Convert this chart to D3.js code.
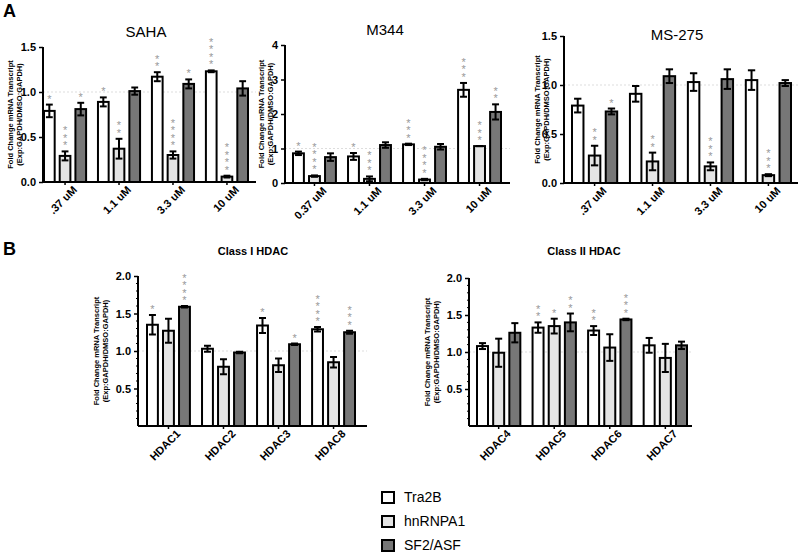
<!DOCTYPE html>
<html>
<head>
<meta charset="utf-8">
<script src="https://cdn.jsdelivr.net/npm/d3@7"></script>
<style>
  body { margin: 0; background: #fff; }
  svg { font-family: "Liberation Sans", Arial, sans-serif; }
</style>
</head>
<body>
<div id="chart"></div>
<script>
// series (same for every panel)
var series = ['Tra2B', 'hnRNPA1', 'SF2/ASF'];
var fills = ['#ffffff', '#e4e4e4', '#777777'];

// panel A - SAHA
var sahaGroups = ['.37 uM', '1.1 uM', '3.3 uM', '10 uM'];
var sahaMean = [[0.79, 0.89, 1.17, 1.23], [0.29, 0.37, 0.30, 0.06], [0.81, 1.01, 1.09, 1.04]];
var sahaErr  = [[0.07, 0.05, 0.05, 0.01], [0.05, 0.11, 0.04, 0.01], [0.07, 0.04, 0.05, 0.08]];
var sahaStars = [[1, 1, 2, 4], [3, 2, 4, 4], [1, 0, 1, 0]];
var sahaTicks = [0, 0.5, 1.0, 1.5];

// panel A - M344
var m344Groups = ['0.37 uM', '1.1 uM', '3.3 uM', '10 uM'];
var m344Mean = [[0.86, 0.77, 1.12, 2.70], [0.20, 0.12, 0.10, 1.07], [0.75, 1.10, 1.05, 2.06]];
var m344Err  = [[0.05, 0.10, 0.02, 0.20], [0.02, 0.07, 0.02, 0.00], [0.11, 0.08, 0.08, 0.22]];
var m344Stars = [[1, 1, 3, 3], [4, 3, 4, 3], [0, 0, 0, 2]];
var m344Ticks = [0, 1, 2, 3, 4];

// panel A - MS-275
var ms275Groups = ['.37 uM', '1.1 uM', '3.3 uM', '10 uM'];
var ms275Mean = [[0.79, 0.91, 1.03, 1.05], [0.28, 0.22, 0.17, 0.08], [0.73, 1.09, 1.06, 1.02]];
var ms275Err  = [[0.07, 0.08, 0.09, 0.10], [0.10, 0.09, 0.04, 0.01], [0.03, 0.07, 0.10, 0.03]];
var ms275Stars = [[0, 0, 0, 0], [2, 2, 3, 3], [1, 0, 0, 0]];
var ms275Ticks = [0, 0.5, 1.0, 1.5];

// panel B - Class I HDAC
var class1Groups = ['HDAC1', 'HDAC2', 'HDAC3', 'HDAC8'];
var class1Mean = [[1.35, 1.03, 1.34, 1.29], [1.27, 0.79, 0.81, 0.85], [1.59, 0.98, 1.09, 1.25]];
var class1Err  = [[0.13, 0.04, 0.10, 0.03], [0.16, 0.10, 0.09, 0.07], [0.01, 0.01, 0.01, 0.02]];
var class1Stars = [[1, 0, 1, 4], [0, 0, 0, 0], [4, 0, 1, 3]];

// panel B - Class II HDAC
var class2Groups = ['HDAC4', 'HDAC5', 'HDAC6', 'HDAC7'];
var class2Mean = [[1.08, 1.33, 1.29, 1.09], [0.99, 1.35, 1.06, 0.92], [1.26, 1.40, 1.44, 1.09]];
var class2Err  = [[0.04, 0.07, 0.06, 0.10], [0.19, 0.10, 0.18, 0.19], [0.13, 0.12, 0.01, 0.05]];
var class2Stars = [[0, 2, 2, 0], [0, 1, 0, 0], [0, 2, 3, 0]];
var classTicks = [0.5, 1.0, 1.5, 2.0];

var svg = d3.select('#chart').append('svg')
  .attr('width', 800)
  .attr('height', 553);

function drawPanel(p) {
  var g = svg.append('g');
  var y = d3.scaleLinear().domain(p.domain).range([p.y0, p.y1]);
  var x0 = d3.scaleBand().domain(p.groups).range([p.b0, p.b1])
    .paddingInner(0.22).paddingOuter(0);
  var x1 = d3.scaleBand().domain(d3.range(series.length))
    .range([0, x0.bandwidth()]).paddingInner(0.32).paddingOuter(0);

  // dotted reference line at 1
  g.append('line')
    .attr('x1', p.ax0).attr('x2', p.ax1)
    .attr('y1', y(1)).attr('y2', y(1))
    .style('stroke', '#dddddd').style('stroke-width', 1)
    .style('stroke-dasharray', '2,2');

  var rows = [];
  for (var s = 0; s < series.length; s++) {
    for (var i = 0; i < p.groups.length; i++) {
      rows.push({ s: s, grp: p.groups[i], m: p.mean[s][i], e: p.err[s][i], n: p.stars[s][i] });
    }
  }

  var bars = g.selectAll('g.bar').data(rows).enter().append('g')
    .attr('transform', function(d) { return 'translate(' + (x0(d.grp) + x1(d.s)) + ',0)'; });
  var bw = x1.bandwidth();

  bars.append('rect')
    .attr('x', 0)
    .attr('y', function(d) { return y(d.m); })
    .attr('width', bw)
    .attr('height', function(d) { return y(p.domain[0]) - y(d.m); })
    .style('fill', function(d) { return fills[d.s]; })
    .style('stroke', '#000')
    .style('stroke-width', 2);

  // error bars
  var cap = bw * 0.32;
  bars.append('line')
    .attr('x1', bw / 2).attr('x2', bw / 2)
    .attr('y1', function(d) { return y(d.m + d.e); })
    .attr('y2', function(d) { return y(d.m - d.e); })
    .style('stroke', '#000').style('stroke-width', 2);
  bars.append('line')
    .attr('x1', bw / 2 - cap).attr('x2', bw / 2 + cap)
    .attr('y1', function(d) { return y(d.m + d.e); })
    .attr('y2', function(d) { return y(d.m + d.e); })
    .style('stroke', '#000').style('stroke-width', 2);
  bars.append('line')
    .attr('x1', bw / 2 - cap).attr('x2', bw / 2 + cap)
    .attr('y1', function(d) { return y(d.m - d.e); })
    .attr('y2', function(d) { return y(d.m - d.e); })
    .style('stroke', '#000').style('stroke-width', 2);

  // significance stars, stacked in one text per bar
  bars.filter(function(d) { return d.n > 0; }).each(function(d) {
    var t = d3.select(this).append('text')
      .attr('text-anchor', 'middle')
      .style('font-size', '11px')
      .style('fill', '#999');
    for (var k = 0; k < d.n; k++) {
      t.append('tspan')
        .attr('x', bw / 2)
        .attr('y', y(d.m + d.e) - 2 - k * 7.5)
        .text('*');
    }
  });

  // axes
  var yAxis = d3.axisLeft(y).tickValues(p.ticks).tickSize(4).tickFormat(d3.format(p.fmt));
  var ya = g.append('g').attr('transform', 'translate(' + p.ax0 + ',0)').call(yAxis);
  ya.select('.domain').attr('d', 'M0,' + p.y1 + 'V' + y(p.domain[0]));
  if (p.minor) {
    g.selectAll('line.minor').data(d3.range(1, 20).filter(function(v) { return v % 5 != 0; }))
      .enter().append('line')
      .attr('x1', p.ax0 - 2).attr('x2', p.ax0)
      .attr('y1', function(v) { return y(v / 10); }).attr('y2', function(v) { return y(v / 10); })
      .style('stroke', '#000').style('stroke-width', 1);
  }
  var xa = g.append('g').attr('transform', 'translate(0,' + y(p.domain[0]) + ')')
    .call(d3.axisBottom(x0).tickSize(3).tickSizeOuter(0));
  xa.select('.domain').attr('d', 'M' + p.ax0 + ',0H' + p.ax1);
  xa.selectAll('.tick text')
    .attr('text-anchor', 'end')
    .attr('dx', '3')
    .attr('dy', '9')
    .attr('transform', 'rotate(-45)')
    .style('font-size', '11px').style('font-weight', 'bold');
  ya.selectAll('.tick text').style('font-size', '11px').style('font-weight', 'bold');
  g.selectAll('.domain').style('stroke-width', 2);
  g.selectAll('.tick line').style('stroke-width', 1.5);

  // y label
  var lab = g.append('text')
    .attr('transform', 'translate(' + p.lx + ',' + ((p.y1 + y(p.domain[0])) / 2) + ') rotate(-90)')
    .attr('text-anchor', 'middle')
    .style('font-size', '7.5px').style('font-weight', 'bold');
  lab.append('tspan').attr('x', 0).attr('dy', 0).text('Fold Change mRNA Transcript');
  lab.append('tspan').attr('x', 0).attr('dy', 9).text('(Exp:GAPDH/DMSO:GAPDH)');

  // title
  g.append('text')
    .attr('x', p.tx).attr('y', p.ty)
    .attr('text-anchor', 'middle')
    .style('font-size', p.tsize).style('font-weight', p.tweight)
    .text(p.title);
}

drawPanel({ title: 'SAHA', tx: 146, ty: 37, tsize: '15px', tweight: 'normal',
  groups: sahaGroups, mean: sahaMean, err: sahaErr, stars: sahaStars, ticks: sahaTicks, fmt: '.1f',
  domain: [0, 1.5], y0: 182, y1: 47, ax0: 43, ax1: 256, b0: 44, b1: 248, lx: 13 });
drawPanel({ title: 'M344', tx: 385, ty: 35, tsize: '15px', tweight: 'normal',
  groups: m344Groups, mean: m344Mean, err: m344Err, stars: m344Stars, ticks: m344Ticks, fmt: 'd',
  domain: [0, 4], y0: 183, y1: 45, ax0: 285, ax1: 510, b0: 293, b1: 501, lx: 264 });
drawPanel({ title: 'MS-275', tx: 677, ty: 40, tsize: '15px', tweight: 'normal',
  groups: ms275Groups, mean: ms275Mean, err: ms275Err, stars: ms275Stars, ticks: ms275Ticks, fmt: '.1f',
  domain: [0, 1.5], y0: 183, y1: 36, ax0: 564, ax1: 798, b0: 572, b1: 791, lx: 540 });
drawPanel({ title: 'Class I HDAC', tx: 253, ty: 255, tsize: '11px', tweight: 'bold',
  groups: class1Groups, mean: class1Mean, err: class1Err, stars: class1Stars, ticks: classTicks, fmt: '.1f',
  domain: [0, 2], y0: 426, y1: 276, ax0: 138, ax1: 367, b0: 147, b1: 355, lx: 99, minor: true });
drawPanel({ title: 'Class II HDAC', tx: 584, ty: 255, tsize: '11px', tweight: 'bold',
  groups: class2Groups, mean: class2Mean, err: class2Err, stars: class2Stars, ticks: classTicks, fmt: '.1f',
  domain: [0, 2], y0: 426, y1: 278, ax0: 469, ax1: 692, b0: 477, b1: 687, lx: 430, minor: true });

// panel letters
svg.append('text').attr('x', 3).attr('y', 17).style('font-size', '18px').style('font-weight', 'bold').text('A');
svg.append('text').attr('x', 3).attr('y', 255).style('font-size', '18px').style('font-weight', 'bold').text('B');

// legend
var leg = svg.selectAll('g.leg').data(series).enter().append('g')
  .attr('transform', function(d, i) { return 'translate(382,' + (492 + i * 24) + ')'; });
leg.append('rect')
  .attr('width', 12).attr('height', 11)
  .style('fill', function(d, i) { return fills[i]; })
  .style('stroke', '#000').style('stroke-width', 2);
leg.append('text')
  .attr('x', 22).attr('y', 10)
  .style('font-size', '14px')
  .text(function(d) { return d; });
</script>
</body>
</html>
